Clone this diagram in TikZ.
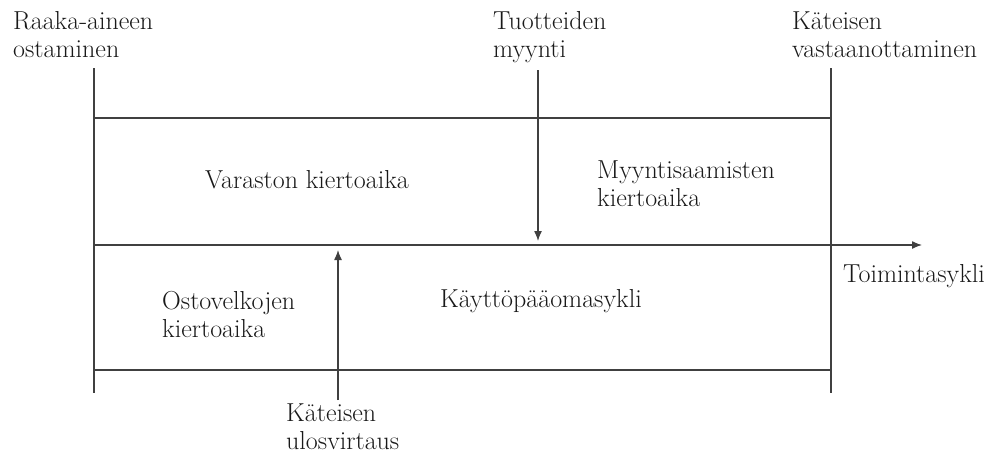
\documentclass[tikz,border=0pt]{standalone}
\usetikzlibrary{arrows.meta}
\begin{document}
\begin{tikzpicture}[x=1pt,y=-1pt,
  lbl/.style={inner sep=0pt, anchor=base west, font=\fontsize{26}{28}\selectfont, text=black!90},
  ln/.style={line width=1.3pt, draw=black!75},
  arr/.style={ln, -{Latex[length=10pt,width=8pt]}}]
\useasboundingbox (0,0) rectangle (989,453);
% frame lines
\coordinate (lt) at (94,68);
\coordinate (lb) at (94,393);
\coordinate (rt) at (831,68);
\coordinate (rb) at (831,393);
\coordinate (t1) at (94,118);
\coordinate (t2) at (831,118);
\coordinate (m1) at (94,245);
\coordinate (m2) at (922,245);
\coordinate (b1) at (94,370);
\coordinate (b2) at (831,370);
\coordinate (ds) at (538,70);
\coordinate (de) at (538,241);
\coordinate (us) at (338,400);
\coordinate (ue) at (338,250);
\draw[ln] (lt) -- (lb);
\draw[ln] (rt) -- (rb);
\draw[ln] (t1) -- (t2);
\draw[ln] (b1) -- (b2);
\draw[arr] (m1) -- (m2);
\draw[arr] (ds) -- (de);
\draw[arr] (us) -- (ue);
% labels
\node[lbl] (raaka) at (13,29) {\begin{tabular}[t]{@{}l@{}}Raaka-aineen\\ostaminen\end{tabular}};
\node[lbl] (tuot) at (493,29) {\begin{tabular}[t]{@{}l@{}}Tuotteiden\\myynti\end{tabular}};
\node[lbl] (katv) at (792,29) {\begin{tabular}[t]{@{}l@{}}Käteisen\\vastaanottaminen\end{tabular}};
\node[lbl] (var) at (205,188) {Varaston kiertoaika};
\node[lbl] (myy) at (597,178) {\begin{tabular}[t]{@{}l@{}}Myyntisaamisten\\kiertoaika\end{tabular}};
\node[lbl] (toim) at (843,282) {Toimintasykli};
\node[lbl] (osto) at (162,309) {\begin{tabular}[t]{@{}l@{}}Ostovelkojen\\kiertoaika\end{tabular}};
\node[lbl] (kayt) at (440,307) {Käyttöpääomasykli};
\node[lbl] (katu) at (286,421) {\begin{tabular}[t]{@{}l@{}}Käteisen\\ulosvirtaus\end{tabular}};
\end{tikzpicture}
\end{document}
